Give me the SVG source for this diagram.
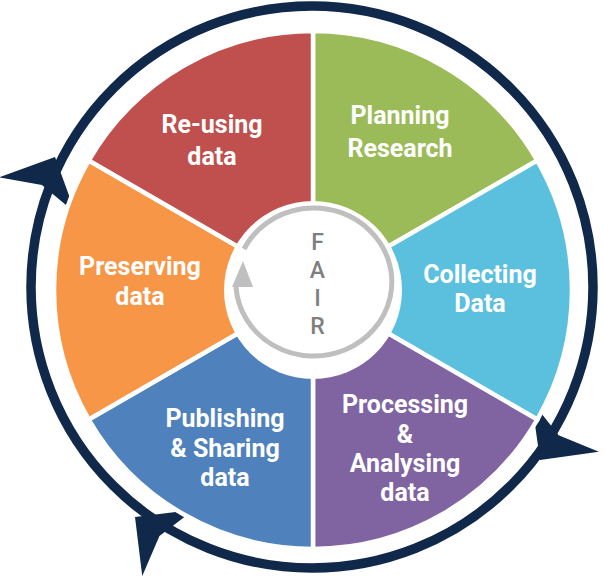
<svg xmlns="http://www.w3.org/2000/svg" width="604" height="581" viewBox="0 0 604 581">
<style>
.seg{stroke:#ffffff;stroke-width:4.5;stroke-linejoin:miter}
.lbl{font-family:Roboto,"Liberation Sans",Arial,sans-serif;font-weight:700;font-size:25px;fill:#ffffff;text-anchor:middle}
.fair{font-family:Roboto,"Liberation Sans",Arial,sans-serif;font-weight:500;font-size:23px;fill:#7f7f7f;text-anchor:middle}
.dart{fill:#10284a}
</style>
<defs>
<path id="dartShape" d="M0,0 L-42,42 L-31,0 L-42,-42 Z"/>
</defs>
<rect width="604" height="581" fill="#ffffff"/>
<g id="connectors">
<circle cx="312" cy="287" r="281" fill="none" stroke="#10284a" stroke-width="9.5"/>
<use href="#dartShape" class="dart" transform="translate(55,157) rotate(-65)"/>
<use href="#dartShape" class="dart" transform="translate(540,460) rotate(127)"/>
<use href="#dartShape" class="dart" transform="translate(135,517) rotate(218)"/>
</g>
<g id="node-planning">
<path class="seg" fill="#9bbb59" d="M313,290 L313,31 A259,259 0 0 1 537.3,160.5 Z"/>
<text class="lbl" x="400" y="124">Planning</text>
<text class="lbl" x="400" y="157">Research</text>
</g>
<g id="node-collecting">
<path class="seg" fill="#5bc0de" d="M313,290 L537.3,160.5 A259,259 0 0 1 537.3,419.5 Z"/>
<text class="lbl" x="480" y="283">Collecting</text>
<text class="lbl" x="480" y="312">Data</text>
</g>
<g id="node-processing">
<path class="seg" fill="#8064a2" d="M313,290 L537.3,419.5 A259,259 0 0 1 313,549 Z"/>
<text class="lbl" x="405" y="413">Processing</text>
<text class="lbl" x="405" y="443">&amp;</text>
<text class="lbl" x="405" y="472">Analysing</text>
<text class="lbl" x="405" y="501">data</text>
</g>
<g id="node-publishing">
<path class="seg" fill="#4f81bd" d="M313,290 L313,549 A259,259 0 0 1 88.7,419.5 Z"/>
<text class="lbl" x="225" y="427">Publishing</text>
<text class="lbl" x="225" y="457">&amp; Sharing</text>
<text class="lbl" x="225" y="486">data</text>
</g>
<g id="node-preserving">
<path class="seg" fill="#f79646" d="M313,290 L88.7,419.5 A259,259 0 0 1 88.7,160.5 Z"/>
<text class="lbl" x="140" y="275">Preserving</text>
<text class="lbl" x="140" y="305">data</text>
</g>
<g id="node-reusing">
<path class="seg" fill="#c0504d" d="M313,290 L88.7,160.5 A259,259 0 0 1 313,31 Z"/>
<text class="lbl" x="212" y="133">Re-using</text>
<text class="lbl" x="212" y="165">data</text>
</g>
<g id="node-fair">
<circle cx="313" cy="290" r="89" fill="#ffffff"/>
<path d="M244,249 A78,74 0 1 1 236,287" fill="none" stroke="#bfbfbf" stroke-width="5"/>
<polygon points="243,261 232,287 253,287" fill="#bfbfbf"/>
<text class="fair" x="317.5" y="250">F</text>
<text class="fair" x="317.5" y="278">A</text>
<text class="fair" x="317.5" y="306">I</text>
<text class="fair" x="317.5" y="334">R</text>
</g>
</svg>
